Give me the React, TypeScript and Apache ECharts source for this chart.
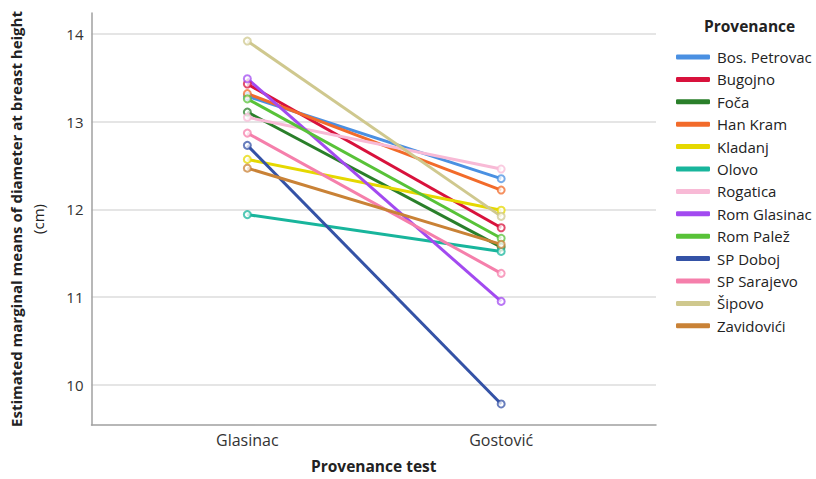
import React, { useEffect, useRef } from "react";
import * as echarts from "echarts";

const categories = ["Glasinac", "Gostović"];
const provenances = [
  "Bos. Petrovac",
  "Bugojno",
  "Foča",
  "Han Kram",
  "Kladanj",
  "Olovo",
  "Rogatica",
  "Rom Glasinac",
  "Rom Palež",
  "SP Doboj",
  "SP Sarajevo",
  "Šipovo",
  "Zavidovići",
];
const glasinacValues = [13.29, 13.43, 13.11, 13.32, 12.57, 11.94, 13.05, 13.49, 13.26, 12.73, 12.87, 13.92, 12.47];
const gostovicValues = [12.35, 11.79, 11.57, 12.22, 11.99, 11.52, 12.46, 10.95, 11.67, 9.78, 11.27, 11.92, 11.60];
const colors = [
  "#4a90e2",
  "#d8123c",
  "#2a7f2a",
  "#f26b2a",
  "#e5d800",
  "#18b59c",
  "#f8bad6",
  "#a24af0",
  "#58c238",
  "#3452a6",
  "#f57fab",
  "#cfc88e",
  "#c98236",
];

const FONT = "'Open Sans', 'Noto Sans', sans-serif";

export default function App() {
  const ref = useRef<HTMLDivElement>(null);
  useEffect(() => {
    document.body.style.margin = "0";
    if (!ref.current) return;
    const chart = echarts.init(ref.current, null, { renderer: "svg" });
    const series = provenances.map((name, i) => ({
      name,
      type: "line",
      data: [
        [0, glasinacValues[i]],
        [1, gostovicValues[i]],
      ],
      symbol: "emptyCircle",
      symbolSize: 7,
      lineStyle: { width: 3, color: colors[i] },
      itemStyle: { color: colors[i], borderWidth: 1.5, opacity: 0.75 },
      emphasis: { disabled: true },
    }));
    chart.setOption({
      animation: false,
      textStyle: { fontFamily: FONT },
      title: {
        text: "Provenance",
        left: 699,
        top: 13,
        textStyle: { fontFamily: FONT, fontSize: 15.5, fontWeight: "bold", color: "#222" },
      },
      legend: {
        orient: "vertical",
        left: 671,
        top: 44,
        itemWidth: 34,
        itemHeight: 5,
        itemGap: 6.4,
        icon: "roundRect",
        data: provenances.map((name, i) => ({ name, itemStyle: { color: colors[i], opacity: 1 } })),
        textStyle: { fontFamily: FONT, fontSize: 15, color: "#222", lineHeight: 16, padding: [0, 0, 0, 2] },
      },
      grid: { left: 91, top: 13, right: 160, bottom: 49, containLabel: false },
      xAxis: {
        type: "value",
        min: -0.614,
        max: 1.61,
        name: "Provenance test",
        nameLocation: "middle",
        nameGap: 33,
        nameTextStyle: { fontFamily: FONT, fontSize: 15.5, fontWeight: "bold", color: "#222" },
        axisLine: { onZero: false, lineStyle: { color: "#a0a0a0", width: 1.5 } },
        axisTick: { show: false },
        splitLine: { show: false },
        axisLabel: {
          fontFamily: FONT,
          fontSize: 16,
          color: "#333",
          margin: 7,
          showMinLabel: false,
          showMaxLabel: false,
          formatter: (v: number) => (Number.isInteger(v) && categories[v] ? categories[v] : ""),
        },
      },
      yAxis: {
        type: "value",
        min: 9.54,
        max: 14.24,
        splitNumber: 5,
        name: "{b|Estimated marginal means of diameter at breast height}\n{n|(cm)}",
        nameLocation: "middle",
        nameGap: 43,
        nameRotate: 90,
        nameTextStyle: {
          rich: {
            b: { fontFamily: FONT, fontSize: 15, fontWeight: "bold", color: "#222", lineHeight: 22 },
            n: { fontFamily: FONT, fontSize: 15, color: "#222", lineHeight: 22 },
          },
        },
        axisLine: { show: true, onZero: false, lineStyle: { color: "#a0a0a0", width: 1.5 } },
        axisTick: { show: false },
        axisLabel: {
          fontFamily: FONT,
          fontSize: 15,
          color: "#333",
          margin: 8,
          showMinLabel: false,
          showMaxLabel: false,
          formatter: (v: number) => (Number.isInteger(v) ? String(v) : ""),
        },
        splitLine: {
          show: true,
          showMinLine: false,
          showMaxLine: false,
          lineStyle: { color: "#dcdcdc", width: 1.5 },
        },
      },
      series,
    });
    return () => chart.dispose();
  }, []);
  return <div ref={ref} style={{ width: 816, height: 479 }} />;
}
